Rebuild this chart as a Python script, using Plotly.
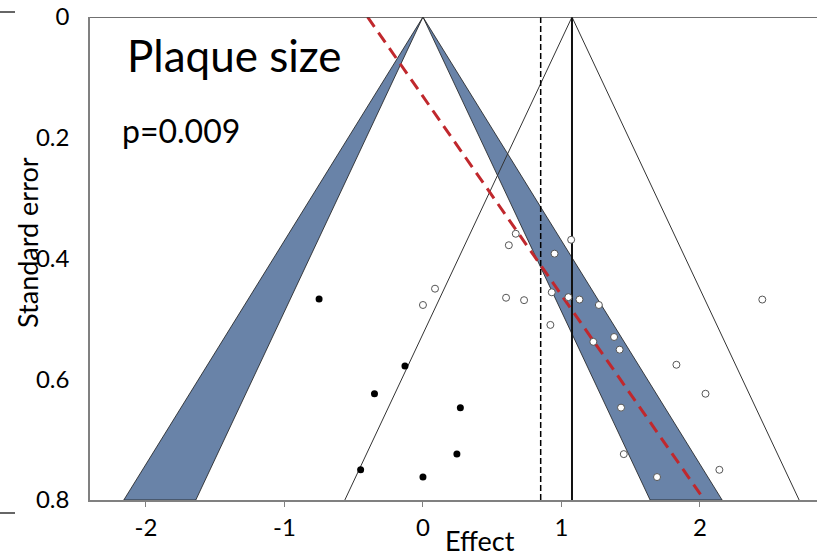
import plotly.graph_objects as go

# ---- data ----
observed_effect = [0.67, 0.62, 0.95, 1.07, 0.087, 0.0, 0.60, 0.73, 0.93, 1.05, 1.13, 1.27,
                   2.45, 0.92, 1.23, 1.38, 1.42, 1.83, 2.04, 1.43, 1.45, 2.14, 1.69]
observed_se = [0.359, 0.378, 0.392, 0.369, 0.450, 0.477, 0.465, 0.469, 0.456, 0.464, 0.468, 0.477,
               0.468, 0.510, 0.538, 0.530, 0.551, 0.576, 0.624, 0.647, 0.724, 0.750, 0.762]
imputed_effect = [-0.75, -0.13, -0.35, -0.45, 0.27, 0.245, 0.0]
imputed_se = [0.467, 0.578, 0.624, 0.750, 0.647, 0.724, 0.762]

null_effect = 0.0          # apex of contour-enhanced funnel
pooled_effect = 1.076      # observed pooled estimate (solid line, thin funnel)
adjusted_effect = 0.85     # trim-and-fill adjusted estimate (dashed line)
z_inner = 2.05             # funnel half-width factors (effect units per SE)
z_outer = 2.70
egger_intercept = -0.40    # Egger regression line: effect = a + b * se
egger_slope = 3.04
se_max = 0.8

x_ticks = [-2, -1, 0, 1, 2]
x_ticklabels = ["-2", "-1", "0", "1", "2"]
y_ticks = [0, 0.2, 0.4, 0.6, 0.8]
y_ticklabels = ["0", "0.2", "0.4", "0.6", "0.8"]

FONT = "Lato"
BAND = "#6983a8"

fig = go.Figure()

# contour bands (between z_inner and z_outer) around null effect
c = null_effect
for sign in (-1, 1):
    fig.add_trace(go.Scatter(
        x=[c, c + sign * z_outer * se_max, c + sign * z_inner * se_max, c],
        y=[0, se_max, se_max, 0],
        mode="lines", fill="toself", fillcolor=BAND,
        line=dict(color="#1a1a1a", width=0.8),
        hoverinfo="skip", showlegend=False))

# thin funnel around pooled effect
p = pooled_effect
fig.add_trace(go.Scatter(
    x=[p - z_inner * se_max, p, p + z_inner * se_max],
    y=[se_max, 0, se_max],
    mode="lines", line=dict(color="#333333", width=1),
    hoverinfo="skip", showlegend=False))

# adjusted estimate (dashed vertical)
fig.add_trace(go.Scatter(
    x=[adjusted_effect, adjusted_effect], y=[0, se_max],
    mode="lines", line=dict(color="black", width=1.5, dash="6px,3px"),
    hoverinfo="skip", showlegend=False))

# pooled estimate (solid vertical)
fig.add_trace(go.Scatter(
    x=[pooled_effect, pooled_effect], y=[0, se_max],
    mode="lines", line=dict(color="#111111", width=2),
    hoverinfo="skip", showlegend=False))

# Egger regression line
fig.add_trace(go.Scatter(
    x=[egger_intercept, egger_intercept + egger_slope * se_max], y=[0, se_max],
    mode="lines", line=dict(color="#c0282d", width=3, dash="12px,7px"),
    hoverinfo="skip", showlegend=False))

# studies
fig.add_trace(go.Scatter(
    x=observed_effect, y=observed_se, mode="markers",
    marker=dict(size=7, color="white", line=dict(color="#555555", width=1)),
    showlegend=False))
fig.add_trace(go.Scatter(
    x=imputed_effect, y=imputed_se, mode="markers",
    marker=dict(size=7, color="black"),
    showlegend=False))

W, H = 817, 557
ml, mr, mt, mb = 90, 0, 17, 57
pw, ph = W - ml - mr, H - mt - mb

def px(xp):
    return (xp - ml) / pw

def py(yp):
    return (H - mb - yp) / ph

fig.update_layout(
    width=W, height=H,
    margin=dict(l=ml, r=mr, t=mt, b=mb, pad=0, autoexpand=False),
    paper_bgcolor="white", plot_bgcolor="white",
    font=dict(family=FONT, color="black", size=24),
    xaxis=dict(range=[-2.404, 2.845], tickvals=x_ticks, ticktext=x_ticklabels,
               automargin=False,
               showgrid=False, zeroline=False, showline=True, linecolor="#808080",
               linewidth=1.5, ticks="outside", ticklen=5, tickcolor="#808080",
               tickfont=dict(size=24, family=FONT)),
    yaxis=dict(range=[se_max, 0], tickvals=y_ticks, ticktext=y_ticklabels,
               automargin=False,
               showgrid=False, zeroline=False, showline=True, linecolor="#808080",
               linewidth=1.5, ticks="", ticklabelstandoff=14,
               tickfont=dict(size=24, family=FONT)),
    shapes=[
        dict(type="line", xref="paper", yref="y", x0=0, x1=1, y0=0, y1=0,
             line=dict(color="#404040", width=1.5)),
        dict(type="line", xref="paper", yref="paper", x0=px(0), x1=px(15),
             y0=py(12), y1=py(12), line=dict(color="#333333", width=1.5)),
        dict(type="line", xref="paper", yref="paper", x0=px(0), x1=px(15),
             y0=py(513), y1=py(513), line=dict(color="#333333", width=1.5)),
    ],
    annotations=[
        dict(text="Plaque size", xref="paper", yref="paper", x=px(125), y=py(55),
             xanchor="left", yanchor="middle", showarrow=False,
             font=dict(size=44, family=FONT)),
        dict(text="p=0.009", xref="paper", yref="paper", x=px(120), y=py(130),
             xanchor="left", yanchor="middle", showarrow=False,
             font=dict(size=32, family=FONT)),
        dict(text="Effect", xref="paper", yref="paper", x=px(480), y=py(540),
             xanchor="center", yanchor="middle", showarrow=False,
             font=dict(size=27, family=FONT)),
        dict(text="Standard error", xref="paper", yref="paper", x=px(27), y=py(243),
             xanchor="center", yanchor="middle", showarrow=False, textangle=-90,
             font=dict(size=27, family=FONT)),
    ],
)

fig.write_html("out.html", config={"displayModeBar": False},
               post_script="document.body.style.margin='0';document.body.style.overflow='hidden';")
